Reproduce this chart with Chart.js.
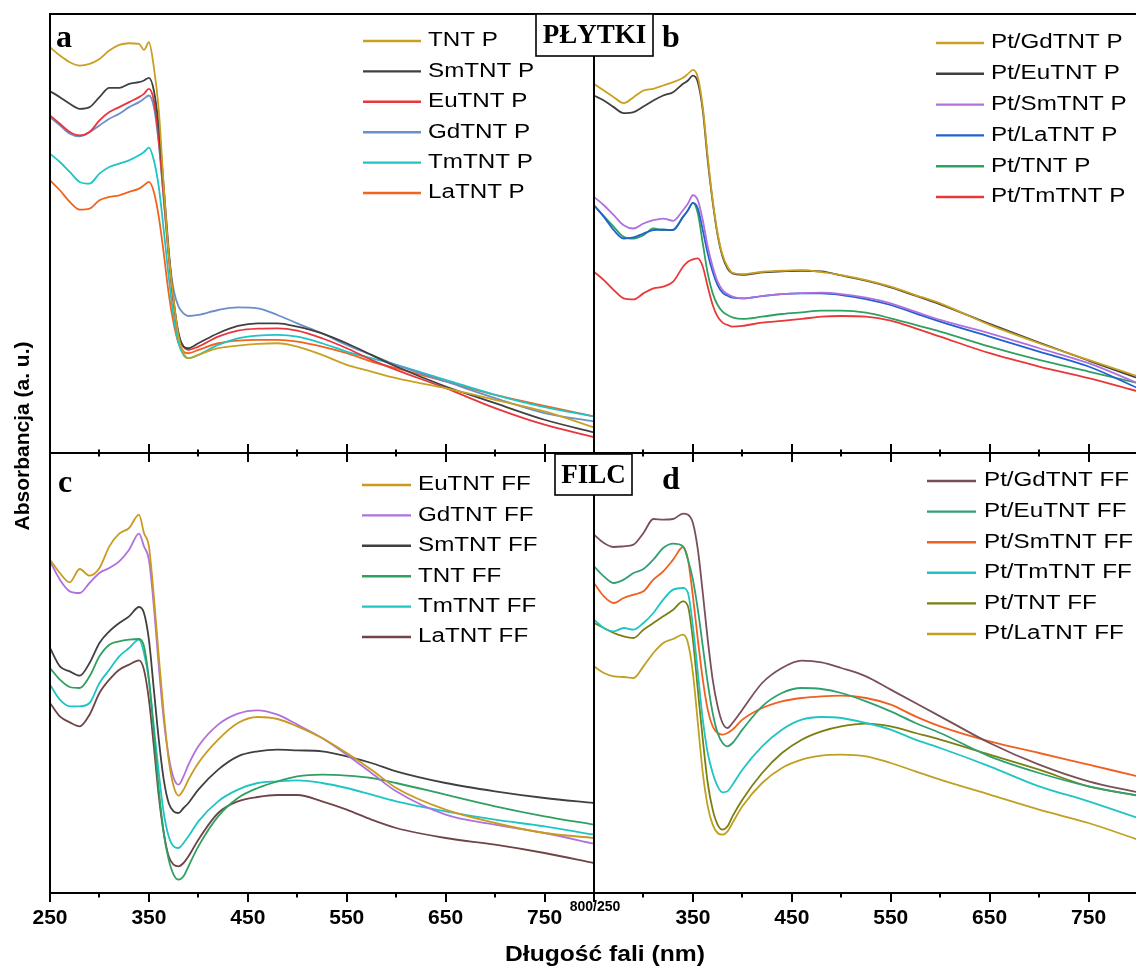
<!DOCTYPE html>
<html>
<head>
<meta charset="utf-8">
<script src="https://cdn.jsdelivr.net/npm/chart.js@4.4.1/dist/chart.umd.min.js"></script>
<style>
  html, body { margin: 0; padding: 0; background: #fff; overflow: hidden; }
  #wrap { position: relative; width: 1136px; height: 971px; overflow: hidden; background: #fff; }
  #wrap canvas { position: absolute; left: 0; top: 0; }
</style>
</head>
<body>
<div id="wrap">
  <canvas id="pa" width="1140" height="971"></canvas>
  <canvas id="pb" width="1140" height="971"></canvas>
  <canvas id="pc" width="1140" height="971"></canvas>
  <canvas id="pd" width="1140" height="971"></canvas>
</div>
<script>
// wavelength grid (nm) shared by all spectra
const wavelengths = [250,260,270,280,290,300,310,320,330,340,345,350,355,360,365,370,375,380,385,390,400,420,440,460,480,500,525,550,575,600,650,700,750,800];

// x tick labels
const ticksLeft = [250,350,450,550,650,750];
const ticksRight = [350,450,550,650,750];

// panel a - PŁYTKI
const labelsA = ['TNT P','SmTNT P','EuTNT P','GdTNT P','TmTNT P','LaTNT P'];
const TNT_P   = [122,119.5,117.5,116.5,117,118.5,121,122.7,123.2,123,121.2,123.5,116,103,80,60,46,35,30,28.5,29.5,31.5,32.3,32.8,33,32,29.5,26.5,24.5,22.5,19.5,16,12.5,7.7];
const SmTNT_P = [108.8,107,105,103.5,104,107,109.8,109.8,111,111.5,112,112.8,109,98,80,61,46,36,32,31.5,33,36,38.2,39,39,38,36,33,29.5,26,20,15,10,6.2];
const EuTNT_P = [101.5,99,96.5,95.5,96.5,100,102.5,104,105.5,107,108,109.5,106,94,77,59,45,35.5,32,31,32,35,36.8,37.4,37.5,36.8,34.5,31.5,28,25,19.5,13.5,8.5,4.8];
const GdTNT_P = [101,98.5,96,95.2,96.5,98.5,100.5,102,104,105.5,106.5,107.5,104,93,76,60,49,44,42,41.2,41.5,43,43.8,43.5,41.5,39,36,32.5,29.5,26.5,21.5,16.5,12,9.5];
const TmTNT_P = [90,87.5,84.5,81.5,81,84,86,87,88,89.5,90.5,91.8,88,80,67,53,41,33,29.5,28.5,29.5,32.5,34.5,35.3,35.5,35,33,30.5,28.5,26.5,22,17.5,13.8,11];
const LaTNT_P = [82,79,75.5,73.2,73.5,76,77,77.5,78.5,79.5,80.5,81.5,78.5,71,60,48,39,33,30.5,30,31,33,33.8,34,34,33.5,32,30,27.5,25.5,21.5,17.5,14.2,11];

// panel b - PŁYTKI with Pt
const labelsB = ['Pt/GdTNT P','Pt/EuTNT P','Pt/SmTNT P','Pt/LaTNT P','Pt/TNT P','Pt/TmTNT P'];
const PtGdTNT_P = [111,109,107,105.2,107,109,109.5,110.5,111.5,112.8,114,115.2,113,104,89,76,66,59.5,56,54.2,53.8,54.5,54.8,55,54.4,53.5,52,50,47.5,45,38.5,33,28,23];
const PtEuTNT_P = [107.5,106,104,102.2,102.5,104.2,106,107.5,108.5,111,112,113.5,111.5,103,88,75.5,65.5,59,55.5,54,53.6,54.3,54.6,54.8,54.6,53.4,51.8,49.8,47.3,44.7,38.8,33.2,27.8,22.5];
const PtSmTNT_P = [77,74.5,71.5,68.5,67.5,69,70,70.5,69.8,73,75,77.5,76,70,62,56,51.5,49,47.8,47,46.5,47.2,47.8,48.1,48.2,47.8,46.7,45,42.5,40,36,31.5,27,21];
const PtLaTNT_P = [74.5,71,67,64.5,64.8,66,67,67.2,67,71,73,75.2,73.5,67,60,54.5,50.5,48.2,47.3,46.7,46.5,47.2,47.8,48,48,47.5,46.3,44.5,42,39.5,35,30.5,26,19.5];
const PtTNT_P   = [74.5,71.2,68,65,64.5,65.5,67.5,67,67.2,71,73,75.2,72,63,54,48,44.5,42.5,41.5,40.8,40.3,41,41.8,42.3,42.8,42.8,42.2,40.5,38.5,36.5,32,28,24.5,21];
const PtTmTNT_P = [54.5,52,49,46.5,46.2,48,49.5,50,51.5,56,57.5,58.2,58.5,56,50,44.5,41,39.2,38.5,38,38.2,39.2,39.7,40.3,41,41.2,41,39.8,37.5,35,30,26,22.5,18.5];

// panel c - FILC
const labelsC = ['EuTNT FF','GdTNT FF','SmTNT FF','TNT FF','TmTNT FF','LaTNT FF'];
const EuTNT_FF = [100,96,93.2,97.2,95.2,97.5,104,107.8,109.5,113.5,108,104,89,71,54,40,32,29.2,31,34,39,46,51,52.8,52.2,50,46.5,42,37,31.5,25,21,18,16.5];
const GdTNT_FF = [99.5,94,90.5,90,93,96,97.5,99.5,103,107.8,104,100,86,68,52,41,34.5,32.5,35,38.5,44,50.5,53.8,54.8,53.5,50.5,46.5,41.5,36,30.5,23.5,20.5,18,14.8];
const SmTNT_FF = [73.5,68,66.5,65.2,69,75,78.5,81,83,85.8,84,76,61,46,34,27,24.5,24,25.5,27,31,37,41,42.5,43,42.8,42.5,41,39,36.5,33,30.5,28.5,27];
const TNT_FF   = [67.5,64,61.8,61.5,65,71,74.5,75.5,76,76.2,74,64,48,31,18,10,5.5,4,5,8,14,23,28.5,31.5,33.5,35,35.5,35.2,34.5,33,29.5,26,23,20.5];
const TmTNT_FF = [62.5,58,56,56,57,63,67,71,73.5,76,72,64,50,36,24,17,14,13.5,15,17,21.5,27.5,31,33,33.5,33.8,33,31.5,29.5,27.5,24.5,22,20,17.5];
const LaTNT_FF = [57,53,51.2,50,53.5,60,64,67,68.5,69.8,67,58,44,29,18,11,8.5,8,9,11,16,24,27.5,28.8,29.4,29.4,27.5,25,22,19.5,16.5,14.5,12,9];

// panel d - FILC with Pt
const labelsD = ['Pt/GdTNT FF','Pt/EuTNT FF','Pt/SmTNT FF','Pt/TmTNT FF','Pt/TNT FF','Pt/LaTNT FF'];
const PtGdTNT_FF = [107.5,105,103.8,104,104.5,108,112.2,112,112.2,113.8,113.5,111,103,90,76,64,56,51,49.5,51,55,63,67.5,69.7,69.2,67.5,65,61,57,53,45,38.5,33.5,30.2];
const PtEuTNT_FF = [98,95,93,94,96,97.2,100,103.5,104.8,104,100,94,85,74,63,54,48,45,44,45,49,56,60,61.5,61.2,60,57.5,54.5,51,48,41,36,32,29.2];
const PtSmTNT_FF = [93,89,87,88.5,89.5,90.5,94,96.5,100,103.8,100,89,76,64,55,50,48,47.5,48,49,52,55.5,57.5,58.5,59,59.2,58.5,56.5,53,50,45.5,42,38.5,35];
const PtTmTNT_FF = [82,79.5,78.5,79.5,79,81,84,88,91,91.5,90,80,66,52,42,36,32,30.2,30.5,32.5,37,44,49,52,52.8,52.5,51,49,46,43.5,38,32,27.5,22.5];
const PtTNT_FF   = [81,79.5,78,77,76.5,79,81,83,85,87.5,86,76,61,46,33,25,20.5,19,20,23,28,36,42,46,48.5,50,50.8,50,48,46,41.5,37,32,29.2];
const PtLaTNT_FF = [68,66,65,64.8,64.5,68,72,75,76.2,77.5,75,66,51,36,26,20.5,18,17.5,18.5,21,26,33,37.5,40,41.2,41.5,41,39,36.5,34,29.5,25,21,16];

const SANS = '"Liberation Sans", Arial, sans-serif';
const SERIF = '"Liberation Serif", "Times New Roman", serif';

function decor(p) {
  return {
    id: 'decor',
    afterDraw(chart) {
      const ctx = chart.ctx;
      const a = chart.chartArea;
      const xs = chart.scales.x;
      ctx.save();
      // frame
      ctx.strokeStyle = '#000';
      ctx.lineWidth = 2;
      ctx.strokeRect(a.left, a.top, a.right - a.left, a.bottom - a.top);
      // tick marks
      ctx.beginPath();
      for (let w = 250; w <= 800; w += 50) {
        const x = Math.round(xs.getPixelForValue(w));
        const major = (w - 250) % 100 === 0;
        if (p.row === 'top') {
          const len = major ? 9 : 3.5;
          ctx.moveTo(x, a.bottom - len);
          ctx.lineTo(x, a.bottom + len);
        } else {
          const len = major ? 9 : 4.5;
          ctx.moveTo(x, a.bottom);
          ctx.lineTo(x, a.bottom + len);
        }
      }
      ctx.stroke();

      // legend
      const lg = p.legend;
      ctx.font = '19.5px ' + SANS;
      ctx.textBaseline = 'middle';
      ctx.textAlign = 'left';
      chart.data.datasets.forEach((ds, i) => {
        const y = lg.y0 + i * lg.dy;
        ctx.strokeStyle = ds.borderColor;
        ctx.lineWidth = 2.4;
        ctx.beginPath();
        ctx.moveTo(lg.x0, y);
        ctx.lineTo(lg.x1, y);
        ctx.stroke();
        ctx.save();
        ctx.translate(lg.tx, y);
        ctx.scale(1.24, 1);
        ctx.fillStyle = '#000';
        ctx.fillText(ds.label, 0, 0);
        ctx.restore();
      });

      // panel letter
      ctx.fillStyle = '#000';
      ctx.font = 'bold 32px ' + SERIF;
      ctx.textBaseline = 'alphabetic';
      ctx.fillText(p.letter, p.letterX, p.letterY);

      if (p.extra) p.extra(ctx);
      ctx.restore();
    }
  };
}

function labelBox(ctx, text, x0, y0, x1, y1) {
  ctx.fillStyle = '#fff';
  ctx.fillRect(x0, y0, x1 - x0, y1 - y0);
  ctx.strokeStyle = '#000';
  ctx.lineWidth = 1.6;
  ctx.strokeRect(x0, y0, x1 - x0, y1 - y0);
  ctx.fillStyle = '#000';
  ctx.font = 'bold 27px ' + SERIF;
  ctx.textAlign = 'center';
  ctx.textBaseline = 'middle';
  ctx.fillText(text, (x0 + x1) / 2, (y0 + y1) / 2 + 1.5);
}

function makeChart(id, p) {
  const datasets = p.series.map((s, i) => ({
    label: p.labels[i],
    data: wavelengths.map((w, j) => ({ x: w, y: s[j] })),
    borderColor: p.colors[i],
    borderWidth: 1.8,
    pointRadius: 0,
    cubicInterpolationMode: 'monotone',
    fill: false
  }));
  const xScale = {
    type: 'linear', min: 250, max: 800,
    display: !!p.tickLabels,
    grid: { drawOnChartArea: false, drawTicks: false },
    border: { display: false },
    ticks: {
      stepSize: 50, autoSkip: false, maxRotation: 0, padding: 13, color: '#000',
      font: { family: SANS, size: 21, weight: 'bold' },
      callback: v => (p.tickLabels && p.tickLabels.includes(v)) ? String(v) : ''
    }
  };
  if (p.tickLabels) {
    xScale.afterFit = s => {
      s.height = 78;
      s.paddingLeft = 0;
      s.paddingRight = 0;
    };
  }
  return new Chart(document.getElementById(id), {
    type: 'line',
    data: { datasets },
    options: {
      responsive: false,
      animation: false,
      events: [],
      layout: { padding: p.padding },
      plugins: { legend: { display: false }, tooltip: { enabled: false } },
      scales: {
        x: xScale,
        y: { display: false, min: 0, max: 132 }
      }
    },
    plugins: [decor(p)]
  });
}

makeChart('pa', {
  series: [TNT_P, SmTNT_P, EuTNT_P, GdTNT_P, TmTNT_P, LaTNT_P],
  labels: labelsA,
  colors: ['#c9a020', '#404040', '#e8363c', '#6a8fc9', '#1fc4c4', '#f0641e'],
  padding: { left: 50, right: 546, top: 14, bottom: 518 },
  row: 'top',
  legend: { x0: 363, x1: 421, tx: 428, y0: 41, dy: 30.4 },
  letter: 'a', letterX: 56, letterY: 47,
  extra(ctx) {
    // y axis title
    ctx.save();
    ctx.translate(23, 436);
    ctx.rotate(-Math.PI / 2);
    ctx.font = 'bold 21px ' + SANS;
    ctx.textAlign = 'center';
    ctx.textBaseline = 'middle';
    ctx.fillStyle = '#000';
    ctx.fillText('Absorbancja (a. u.)', 0, 0);
    ctx.restore();
  }
});

makeChart('pb', {
  series: [PtGdTNT_P, PtEuTNT_P, PtSmTNT_P, PtLaTNT_P, PtTNT_P, PtTmTNT_P],
  labels: labelsB,
  colors: ['#c9a020', '#404040', '#b070e0', '#2060d0', '#30a060', '#e83838'],
  padding: { left: 594, right: 2, top: 14, bottom: 518 },
  row: 'top',
  legend: { x0: 936, x1: 984, tx: 991, y0: 43, dy: 30.8 },
  letter: 'b', letterX: 662, letterY: 47,
  extra(ctx) { labelBox(ctx, 'PŁYTKI', 536, 14, 653, 56); }
});

makeChart('pc', {
  series: [EuTNT_FF, GdTNT_FF, SmTNT_FF, TNT_FF, TmTNT_FF, LaTNT_FF],
  labels: labelsC,
  colors: ['#c89b20', '#b070e0', '#404040', '#30a060', '#1fc4c4', '#704448'],
  padding: { left: 50, right: 546, top: 453, bottom: 0 },
  row: 'bottom',
  tickLabels: ticksLeft,
  legend: { x0: 362, x1: 411, tx: 418, y0: 485, dy: 30.4 },
  letter: 'c', letterX: 58, letterY: 492
});

makeChart('pd', {
  series: [PtGdTNT_FF, PtEuTNT_FF, PtSmTNT_FF, PtTmTNT_FF, PtTNT_FF, PtLaTNT_FF],
  labels: labelsD,
  colors: ['#7a5058', '#30a070', '#f06020', '#1fc4c4', '#7a8010', '#c0a020'],
  padding: { left: 594, right: 2, top: 453, bottom: 0 },
  row: 'bottom',
  tickLabels: ticksRight,
  legend: { x0: 927, x1: 976, tx: 984, y0: 481, dy: 30.6 },
  letter: 'd', letterX: 662, letterY: 489,
  extra(ctx) {
    labelBox(ctx, 'FILC', 555, 454, 632, 495);
    ctx.fillStyle = '#000';
    ctx.textAlign = 'center';
    ctx.textBaseline = 'middle';
    ctx.font = 'bold 14px ' + SANS;
    ctx.fillText('800/250', 595, 907);
    ctx.save();
    ctx.translate(605, 955);
    ctx.scale(1.12, 1);
    ctx.font = 'bold 22px ' + SANS;
    ctx.fillText('Długość fali (nm)', 0, 0);
    ctx.restore();
  }
});
</script>
</body>
</html>
